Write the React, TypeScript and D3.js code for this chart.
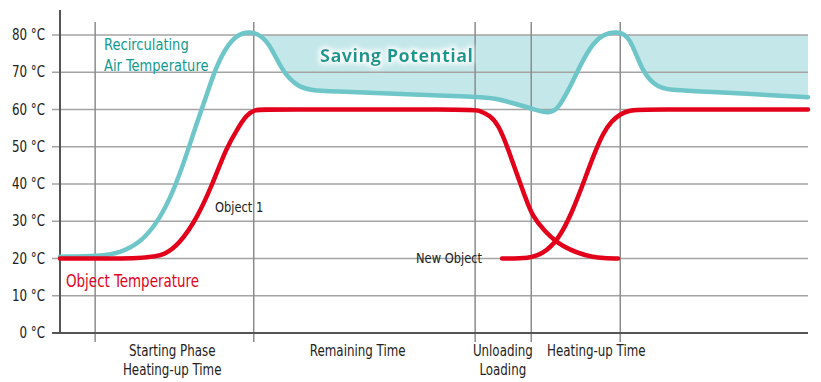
import React from "react";
import * as d3 from "d3";

// ---- data (time in arbitrary units 0..100, temperature in °C) ----
const yTicks = [0, 10, 20, 30, 40, 50, 60, 70, 80];
const phaseBoundaries = [4.7, 25.9, 55.5, 63.0, 74.9];

const airTime = [0, 5.3, 8.0, 10.7, 13.0, 15.1, 17.0, 18.3, 19.7, 20.7, 22.1, 23.7, 25.4, 27.0, 28.3, 29.8, 31.7, 33.7, 36.1, 45.5, 55.5, 58.2, 60.4, 63.0, 65.0, 66.3, 67.2, 68.2, 69.1, 70.9, 72.6, 74.5, 76.2, 77.8, 79.8, 81.5, 85.6, 100];
const airTemp = [20.5, 20.6, 21.5, 24.2, 29.5, 37.6, 48.3, 56.5, 64.4, 70.5, 76.5, 80.2, 81, 79.8, 76.5, 70, 66.2, 65.1, 64.9, 64.2, 63.4, 63, 61.8, 60.3, 59, 59.6, 62.5, 66, 70, 77, 80.3, 81, 79.8, 70, 66, 65.2, 64.9, 63.3];

const obj1Time = [0, 12.0, 14.0, 16.0, 18.3, 20.3, 22.3, 23.8, 24.9, 26.1, 27.4, 54.8, 56.1, 57.5, 58.6, 59.9, 61.1, 62.2, 63.1, 64.8, 66.4, 68.2, 70.2, 72.2, 74.6];
const obj1Temp = [20, 20, 21, 24, 30.8, 39.5, 50, 55, 58.5, 60, 60, 60, 59.8, 58.3, 56, 49.5, 42.5, 36.5, 31.5, 27.3, 24.3, 22.3, 20.8, 20.1, 20];

const newObjTime = [59.1, 62.8, 64.6, 66.6, 68.4, 70.2, 71.4, 72.6, 73.8, 74.9, 76.2, 77.5, 100];
const newObjTemp = [20, 20, 21.3, 25, 32, 41.5, 48, 53.7, 57, 58.8, 59.8, 60, 60];

const savingTop = 80;
const savingStart = 25.4;

const phaseLabels = [
  { t: 15.0, lines: ["Starting Phase", "Heating-up Time"] },
  { t: 39.8, lines: ["Remaining Time"] },
  { t: 59.2, lines: ["Unloading", "Loading"] },
  { t: 71.7, lines: ["Heating-up Time"] },
];

const W = 821;
const H = 382;
const FONT = "'DejaVu Sans Condensed', 'DejaVu Sans', sans-serif";
const TEAL = "#6ec6c8";
const TEAL_FILL = "#c4e7e9";
const TEAL_TEXT = "#12998f";
const RED = "#e2001a";
const SX = 0.88;

function T(props: { x: number; y: number; size: number; fill: string; anchor?: string; children: React.ReactNode }) {
  const { x, y, size, fill, anchor, children } = props;
  return (
    <text
      transform={`translate(${x},${y}) scale(${SX},1)`}
      fontSize={size}
      fill={fill}
      textAnchor={anchor || "start"}
    >
      {children}
    </text>
  );
}

export default function App() {
  const x = d3.scaleLinear().domain([0, 100]).range([60, 808]);
  const y = d3.scaleLinear().domain([0, 80]).range([333, 35]);

  const zip = (ts: number[], vs: number[]) => ts.map((t, i) => [t, vs[i]] as [number, number]);
  const air = zip(airTime, airTemp);
  const obj1 = zip(obj1Time, obj1Temp);
  const newObj = zip(newObjTime, newObjTemp);

  const curve = d3.curveBasis;
  const line = d3
    .line<[number, number]>()
    .x((d) => x(d[0]))
    .y((d) => y(d[1]))
    .curve(curve);

  const area = d3
    .area<[number, number]>()
    .x((d) => x(d[0]))
    .y0(y(savingTop))
    .y1((d) => y(Math.min(d[1], savingTop)))
    .curve(curve);

  const fillData = air.filter((d) => d[0] >= savingStart);

  return (
    <svg width={W} height={H} style={{ position: "absolute", left: 0, top: 0, background: "#fff" }} fontFamily={FONT}>
      <defs>
        <filter id="glow" x="-10%" y="-40%" width="120%" height="180%">
          <feMorphology in="SourceAlpha" operator="dilate" radius="2" result="d" />
          <feGaussianBlur in="d" stdDeviation="2.5" result="b" />
          <feFlood floodColor="#ffffff" floodOpacity="0.95" />
          <feComposite in2="b" operator="in" result="w" />
          <feMerge>
            <feMergeNode in="w" />
            <feMergeNode in="SourceGraphic" />
          </feMerge>
        </filter>
      </defs>

      {/* saving potential fill */}
      <path d={area(fillData) || ""} fill={TEAL_FILL} />

      {/* horizontal grid */}
      {yTicks.slice(1).map((t) => (
        <line key={t} x1={52} x2={808} y1={y(t)} y2={y(t)} stroke="#a3a3a3" strokeWidth={1.5} />
      ))}
      {/* y tick labels */}
      {yTicks.map((t) => (
        <T key={"l" + t} x={45} y={y(t) + 5} size={15} fill="#222" anchor="end">
          {t} °C
        </T>
      ))}

      {/* phase boundaries */}
      {phaseBoundaries.map((t) => (
        <line key={"v" + t} x1={x(t)} x2={x(t)} y1={22} y2={342} stroke="#8c8c8c" strokeWidth={1.5} />
      ))}

      {/* axes */}
      <line x1={60} x2={60} y1={10} y2={334} stroke="#555" strokeWidth={2} />
      <line x1={52} x2={808} y1={y(0)} y2={y(0)} stroke="#555" strokeWidth={2} />

      {/* curves */}
      <path d={line(air) || ""} fill="none" stroke={TEAL} strokeWidth={4.5} strokeLinecap="round" />
      <path d={line(obj1) || ""} fill="none" stroke={RED} strokeWidth={4.5} strokeLinecap="round" />
      <path d={line(newObj) || ""} fill="none" stroke={RED} strokeWidth={4.5} strokeLinecap="round" />

      {/* labels */}
      <T x={104} y={50} size={16.5} fill={TEAL_TEXT}>Recirculating</T>
      <T x={104} y={71} size={16.5} fill={TEAL_TEXT}>Air Temperature</T>
      <text x={320} y={62} fontSize={18} fontWeight="bold" fill={TEAL_TEXT} filter="url(#glow)" fontFamily="'Open Sans', 'DejaVu Sans', sans-serif" letterSpacing={0.5}>
        Saving Potential
      </text>
      <T x={215} y={212} size={14.5} fill="#222">Object 1</T>
      <T x={66} y={287} size={17} fill={RED}>Object Temperature</T>
      <T x={416} y={263} size={14.5} fill="#222">New Object</T>

      {phaseLabels.map((p) =>
        p.lines.map((s, i) => (
          <T key={s + i} x={x(p.t)} y={356 + i * 19} size={15} fill="#222" anchor="middle">
            {s}
          </T>
        ))
      )}
    </svg>
  );
}
